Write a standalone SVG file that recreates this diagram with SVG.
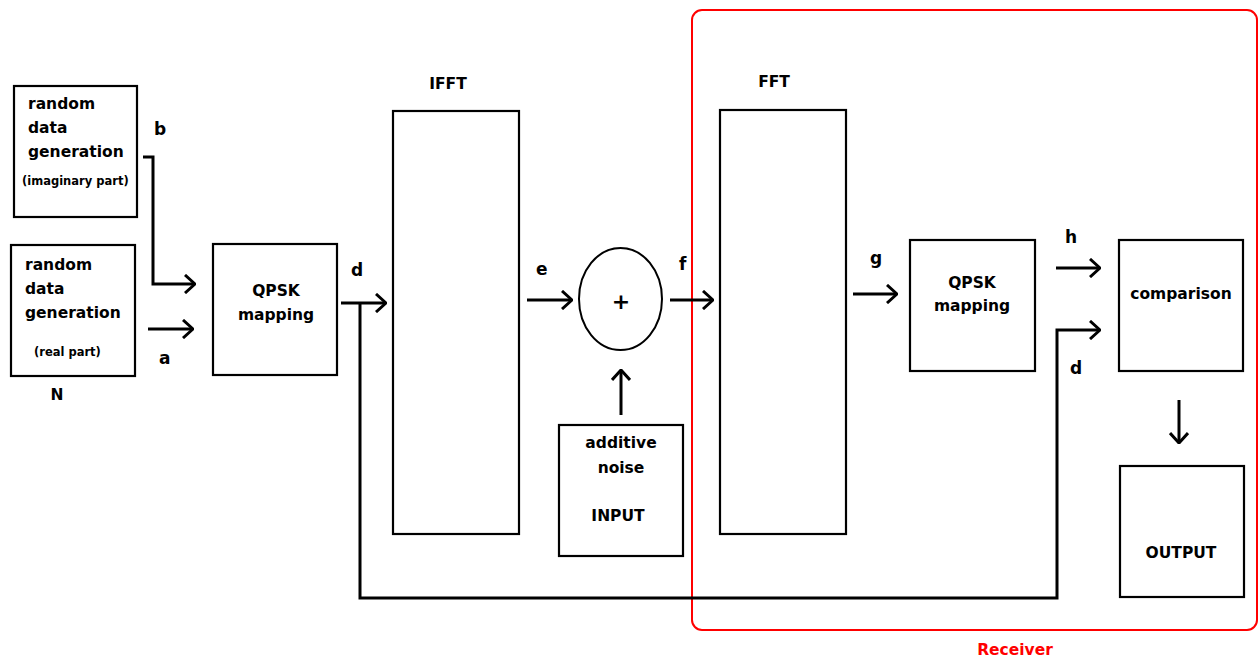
<svg xmlns="http://www.w3.org/2000/svg" width="1260" height="658" viewBox="0 0 1260 658">
<defs>
<marker id="ah" viewBox="0 0 12 20" refX="11" refY="10" markerWidth="12" markerHeight="20" markerUnits="userSpaceOnUse" orient="auto">
<path d="M1,1 L11,10 L1,19" fill="none" stroke="#000" stroke-width="3"/>
</marker>
<style>
.box{fill:#fff;stroke:#000;stroke-width:2.2}
.t{font-family:"DejaVu Sans",sans-serif;font-weight:bold;font-size:15.5px;fill:#000}
.s{font-size:11.5px}
.l{font-size:17px}
.p{font-size:22px}
.c{stroke:#000;stroke-width:3;fill:none}
.m{text-anchor:middle}
.r{fill:#f00}
</style>
</defs>
<rect width="1260" height="658" fill="#fff"/>
<g id="receiver">
<rect x="692" y="10" width="565" height="620" rx="10" fill="none" stroke="#f00" stroke-width="2"/>
<text x="1015" y="655" class="t m r">Receiver</text>
</g>
<g id="gen-imag">
<rect class="box" x="14" y="86" width="123" height="131"/>
<text class="t" x="28" y="109">random</text>
<text class="t" x="28" y="133">data</text>
<text class="t" x="28" y="157">generation</text>
<text class="t s" x="22" y="185">(imaginary part)</text>
</g>
<g id="gen-real">
<rect class="box" x="11" y="245" width="124" height="131"/>
<text class="t" x="25" y="270">random</text>
<text class="t" x="25" y="294">data</text>
<text class="t" x="25" y="318">generation</text>
<text class="t s" x="34" y="356">(real part)</text>
<text class="t m" x="57" y="400">N</text>
</g>
<g id="qpsk1">
<rect class="box" x="213" y="244" width="124" height="131"/>
<text class="t m" x="276" y="296">QPSK</text>
<text class="t m" x="276" y="320">mapping</text>
</g>
<g id="ifft">
<rect class="box" x="393" y="111" width="126" height="423"/>
<text class="t m" x="448" y="89">IFFT</text>
</g>
<g id="adder">
<ellipse cx="620.5" cy="299" rx="41.5" ry="51" fill="#fff" stroke="#000" stroke-width="2"/>
<text class="t m p" x="621" y="309">+</text>
</g>
<g id="noise">
<rect class="box" x="559" y="425" width="124" height="131"/>
<text class="t m" x="621" y="448">additive</text>
<text class="t m" x="621" y="473">noise</text>
<text class="t m" x="618" y="521">INPUT</text>
</g>
<g id="fft">
<rect class="box" x="720" y="110" width="126" height="424"/>
<text class="t m" x="774" y="87">FFT</text>
</g>
<g id="qpsk2">
<rect class="box" x="910" y="240" width="125" height="131"/>
<text class="t m" x="972" y="288">QPSK</text>
<text class="t m" x="972" y="311">mapping</text>
</g>
<g id="comparison">
<rect class="box" x="1119" y="240" width="124" height="131"/>
<text class="t m" x="1181" y="299">comparison</text>
</g>
<g id="output">
<rect class="box" x="1120" y="466" width="124" height="131"/>
<text class="t m" x="1181" y="558">OUTPUT</text>
</g>
<g id="connectors">
<path class="c" d="M143,157 H153 V284 H195" marker-end="url(#ah)"/>
<path class="c" d="M148,329 H193" marker-end="url(#ah)"/>
<path class="c" d="M341,303 H386" marker-end="url(#ah)"/>
<path class="c" d="M360,303 V598 H1057 V330 H1100" marker-end="url(#ah)"/>
<path class="c" d="M527,300 H572" marker-end="url(#ah)"/>
<path class="c" d="M670,300 H713" marker-end="url(#ah)"/>
<path class="c" d="M621,415 V370" marker-end="url(#ah)"/>
<path class="c" d="M853,294 H897" marker-end="url(#ah)"/>
<path class="c" d="M1056,268 H1100" marker-end="url(#ah)"/>
<path class="c" d="M1179,400 V443" marker-end="url(#ah)"/>
<text class="t l" x="154" y="135">b</text>
<text class="t l" x="159" y="364">a</text>
<text class="t l" x="351" y="276">d</text>
<text class="t l" x="536" y="275">e</text>
<text class="t l" x="679" y="270">f</text>
<text class="t l" x="870" y="264">g</text>
<text class="t l" x="1065" y="243">h</text>
<text class="t l" x="1070" y="374">d</text>
</g>
</svg>
